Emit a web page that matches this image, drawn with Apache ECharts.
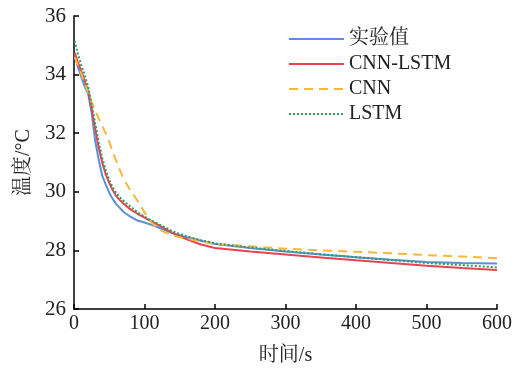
<!DOCTYPE html>
<html><head><meta charset="utf-8">
<script src="https://cdn.jsdelivr.net/npm/echarts@6/dist/echarts.min.js"></script>
<style>html,body{margin:0;padding:0;background:#fff}#c{width:523px;height:371px}</style>
</head><body><div id="c"></div>
<script>
const times = [1,5,10,15,20,25,30,35,40,45,50,55,60,65,70,80,90,100,110,120,140,160,180,200,250,300,350,400,450,500,550,600];
const expVals  = [34.7,34.3,33.95,33.6,33.35,32.7,31.75,31.1,30.55,30.25,29.97,29.75,29.58,29.45,29.32,29.15,29.02,28.95,28.87,28.78,28.58,28.45,28.33,28.22,28.08,27.96,27.86,27.77,27.68,27.6,27.57,27.55];
const cnnLstmVals = [34.75,34.45,34.15,33.8,33.45,32.85,32.15,31.5,31.0,30.6,30.3,30.05,29.85,29.72,29.6,29.4,29.25,29.12,28.99,28.86,28.6,28.38,28.2,28.08,27.96,27.86,27.76,27.66,27.57,27.48,27.4,27.33];
const cnnVals  = [34.6,34.35,34.05,33.7,33.4,33.05,32.8,32.5,32.25,32.0,31.7,31.35,31.05,30.75,30.45,30.05,29.7,29.3,28.95,28.72,28.5,28.4,28.3,28.22,28.14,28.06,28.0,27.95,27.9,27.84,27.79,27.73];
const lstmVals = [35.15,34.75,34.35,34.0,33.6,33.0,32.35,31.7,31.15,30.75,30.4,30.15,29.95,29.82,29.7,29.5,29.3,29.15,29.02,28.9,28.65,28.48,28.35,28.24,28.1,27.98,27.87,27.77,27.67,27.57,27.5,27.42];
const seriesNames = ['实验值','CNN-LSTM','CNN','LSTM'];
const xTicks = [0,100,200,300,400,500,600];
const yTicks = [26,28,30,32,34,36];

const font = '"Liberation Serif","Noto Serif CJK SC","Noto Sans CJK SC",serif';
const pair = v => times.map((t,i)=>[t,v[i]]);
const chart = echarts.init(document.getElementById('c'));
chart.setOption({
  animation:false,
  grid:{left:74,right:26,top:16,bottom:59},
  legend:{
    data:seriesNames, orient:'vertical', left:283, top:24,
    itemWidth:55, itemHeight:14, itemGap:5,
    itemStyle:{opacity:0},
    textStyle:{fontFamily:font,fontSize:20,color:'#222'}
  },
  xAxis:{type:'value',min:xTicks[0],max:xTicks[xTicks.length-1],interval:100,
    name:'时间/s',nameLocation:'middle',nameGap:37,
    nameTextStyle:{fontFamily:font,fontSize:20,color:'#222'},
    axisLine:{lineStyle:{color:'#000',width:1.5}},
    axisTick:{inside:true,length:5,lineStyle:{color:'#000',width:1.5}},
    axisLabel:{fontFamily:font,fontSize:20,color:'#222',margin:5},
    splitLine:{show:false}},
  yAxis:{type:'value',min:yTicks[0],max:yTicks[yTicks.length-1],interval:2,
    name:'温度/°C',nameLocation:'middle',nameGap:40,
    nameTextStyle:{fontFamily:font,fontSize:20,color:'#222'},
    axisLine:{show:true,lineStyle:{color:'#000',width:1.5}},
    axisTick:{show:true,inside:true,length:5,lineStyle:{color:'#000',width:1.5}},
    axisLabel:{fontFamily:font,fontSize:21,color:'#222',margin:8},
    splitLine:{show:false}},
  series:[
    {name:seriesNames[0],type:'line',symbol:'none',data:pair(expVals),lineStyle:{color:'#5b8fd8',width:2},itemStyle:{color:'#5b8fd8'}},
    {name:seriesNames[1],type:'line',symbol:'none',data:pair(cnnLstmVals),lineStyle:{color:'#e8434f',width:2},itemStyle:{color:'#e8434f'}},
    {name:seriesNames[2],type:'line',symbol:'none',data:pair(cnnVals),lineStyle:{color:'#f6b73c',width:2,type:[9,6]},itemStyle:{color:'#f6b73c'}},
    {name:seriesNames[3],type:'line',symbol:'none',data:pair(lstmVals),lineStyle:{color:'#2e9e62',width:2,type:[2,2]},itemStyle:{color:'#2e9e62'}}
  ]
});
</script></body></html>
